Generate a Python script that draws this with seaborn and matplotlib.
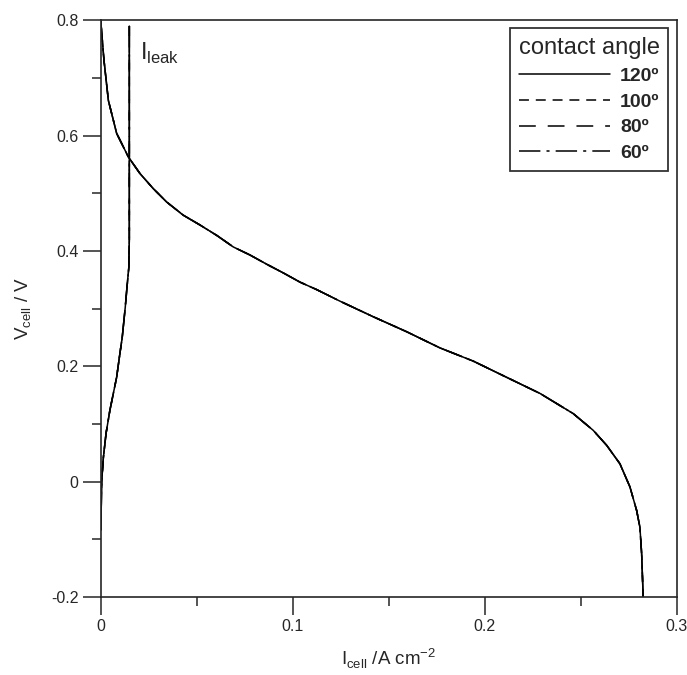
import matplotlib
matplotlib.use("Agg")
import matplotlib.pyplot as plt
from matplotlib.lines import Line2D
import pandas as pd
import seaborn as sns

# ---------------------------------------------------------------
# Data (I in A cm^-2, V in V)
# ---------------------------------------------------------------
angles = ["120º", "100º", "80º", "60º"]

# polarisation branch, the same for every contact angle
pol_I = [0.0001, 0.0018, 0.0041, 0.0084, 0.0145, 0.0206, 0.0275, 0.0344,
         0.0431, 0.0518, 0.0605, 0.0691, 0.0778, 0.0865, 0.0951, 0.1038,
         0.1125, 0.1246, 0.1419, 0.1593, 0.1766, 0.1940, 0.2113, 0.2287,
         0.2460, 0.2564, 0.2634, 0.2703, 0.2755, 0.2790, 0.2807, 0.2816,
         0.2824]
pol_V = [0.800, 0.731, 0.661, 0.604, 0.563, 0.534, 0.508, 0.485,
         0.462, 0.445, 0.427, 0.407, 0.393, 0.377, 0.362, 0.346,
         0.333, 0.313, 0.286, 0.260, 0.232, 0.209, 0.181, 0.153,
         0.118, 0.089, 0.063, 0.031, -0.009, -0.050, -0.079, -0.125,
         -0.200]

# leak current branch
leak_I = [0.0150, 0.0150, 0.0150, 0.0147, 0.0138, 0.0129, 0.0113, 0.0100,
          0.0084, 0.0049, 0.0029, 0.0015, 0.0006, 0.0002]
leak_V = [0.790, 0.600, 0.420, 0.370, 0.338, 0.303, 0.250, 0.220,
          0.181, 0.124, 0.084, 0.042, 0.000, -0.084]

rows = []
for a in angles:
    for i, v in zip(pol_I, pol_V):
        rows.append((a, "pol", i, v))
    for i, v in zip(leak_I, leak_V):
        rows.append((a, "leak", i, v))
df = pd.DataFrame(rows, columns=["angle", "branch", "I", "V"])

# ---------------------------------------------------------------
# Figure
# ---------------------------------------------------------------
sns.set_style("ticks")
plt.rcParams["font.family"] = ["Liberation Sans", "DejaVu Sans"]
plt.rcParams["mathtext.fontset"] = "custom"
plt.rcParams["mathtext.rm"] = "Liberation Sans"

fig = plt.figure(figsize=(6.87, 6.75), dpi=100)
ax = fig.add_axes([100.5 / 687, 78 / 675, 576.5 / 687, 576.7 / 675])

lw = 1.1
dashes = {"120º": "", "100º": (6.5, 4.5), "80º": (11, 7.8), "60º": (14, 4, 2, 4)}
sns.lineplot(data=df, x="I", y="V", style="angle", units="branch",
             estimator=None, sort=False, dashes=dashes, color="black",
             linewidth=lw, ax=ax, legend=False)

ax.set_xlim(0, 0.3)
ax.set_ylim(-0.2, 0.8)
ax.set_xticks([0, 0.1, 0.2, 0.3])
ax.set_xticklabels(["0", "0.1", "0.2", "0.3"])
ax.set_xticks([0.05, 0.15, 0.25], minor=True)
ax.set_yticks([-0.2, 0, 0.2, 0.4, 0.6, 0.8])
ax.set_yticklabels(["-0.2", "0", "0.2", "0.4", "0.6", "0.8"])
ax.set_yticks([-0.1, 0.1, 0.3, 0.5, 0.7], minor=True)
ax.tick_params(which="major", direction="out", length=13, width=1.1,
               labelsize=11.5, pad=3)
ax.tick_params(which="minor", direction="out", length=6.5, width=1.1)
for s in ax.spines.values():
    s.set_linewidth(1.2)

ax.set_xlabel(r"I$_{\mathregular{cell}}$ /A cm$^{\mathregular{-2}}$", fontsize=13.5, labelpad=9)
ax.set_ylabel(r"V$_{\mathregular{cell}}$ / V", fontsize=13.5, labelpad=12)

ax.text(0.0205, 0.731, r"I$_{\mathregular{leak}}$", fontsize=17, va="baseline")

# legend rebuilt with the same dash patterns
handles = []
for a in angles:
    h = Line2D([], [], color="black", linewidth=lw)
    if dashes[a]:
        h.set_dashes(dashes[a])
    handles.append(h)
leg = ax.legend(handles, angles, title="contact angle", loc="upper right",
                frameon=True, fancybox=False, edgecolor="black",
                prop={"size": 14, "weight": "bold"}, title_fontsize=17,
                handlelength=4.7, handletextpad=0.5, labelspacing=0.42,
                borderpad=0.45, borderaxespad=0, bbox_to_anchor=(0.985, 0.986))
leg.get_frame().set_linewidth(1.3)

plt.savefig("out.png", dpi=100)
